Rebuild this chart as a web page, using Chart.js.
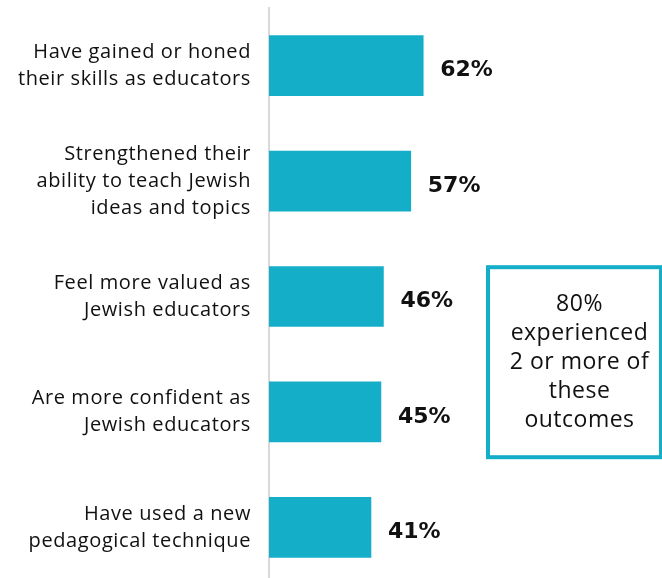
<!DOCTYPE html>
<html>
<head>
<meta charset="utf-8">
<script src="https://cdn.jsdelivr.net/npm/chart.js@4"></script>
<style>
  html, body { margin: 0; padding: 0; background: #ffffff; overflow: hidden; }
  canvas { display: block; }
</style>
</head>
<body>
<canvas id="chart" width="662" height="592"></canvas>
<script>
// Outcomes reported by participants (share of respondents, %)
const outcomeLabels = [
  ["Have gained or honed", "their skills as educators"],
  ["Strengthened their", "ability to teach Jewish", "ideas and topics"],
  ["Feel more valued as", "Jewish educators"],
  ["Are more confident as", "Jewish educators"],
  ["Have used a new", "pedagogical technique"]
];
const outcomeShares = [62, 57, 46, 45, 41];
const calloutLines = ["80%", "experienced", "2 or more of", "these", "outcomes"];

const TEAL = "#14aec8";
const INK = "#111111";

// Slightly open tracking for all canvas text
const tracking = {
  id: "tracking",
  beforeDraw(chart) { chart.ctx.letterSpacing = "0.6px"; }
};

// Bold percentage printed just past the end of each bar
const valueLabels = {
  id: "valueLabels",
  afterDatasetsDraw(chart) {
    const { ctx } = chart;
    const meta = chart.getDatasetMeta(0);
    ctx.save();
    ctx.letterSpacing = "0px";
    ctx.font = "bold 22px 'DejaVu Sans'";
    ctx.fillStyle = INK;
    ctx.textAlign = "left";
    ctx.textBaseline = "middle";
    meta.data.forEach((bar, i) => {
      ctx.fillText(outcomeShares[i] + "%", bar.x + 17, bar.y + 5);
    });
    ctx.restore();
  }
};

// Outlined call-out box summarising the combined outcome
const callout = {
  id: "callout",
  afterDraw(chart) {
    const { ctx, chartArea, scales } = chart;
    const yMid = (scales.y.getPixelForValue(2) + scales.y.getPixelForValue(3)) / 2 + 8;
    const left = chartArea.left + 219;
    const right = chartArea.right + 1;
    const top = yMid - 95;
    const bottom = yMid + 95;
    ctx.save();
    ctx.strokeStyle = TEAL;
    ctx.lineWidth = 4;
    ctx.strokeRect(left, top, right - left - 2, bottom - top);
    ctx.fillStyle = INK;
    ctx.letterSpacing = "0.5px";
    ctx.font = "23px 'Open Sans'";
    ctx.textAlign = "center";
    ctx.textBaseline = "middle";
    const cx = (left + right) / 2 + 4;
    const lh = 29;
    const y0 = yMid - 2 * lh;
    calloutLines.forEach((t, i) => ctx.fillText(t, cx, y0 + i * lh));
    ctx.restore();
  }
};

new Chart(document.getElementById("chart"), {
  type: "bar",
  data: {
    labels: outcomeLabels,
    datasets: [{
      data: outcomeShares,
      backgroundColor: TEAL,
      borderWidth: 0,
      barThickness: 60
    }]
  },
  options: {
    indexAxis: "y",
    responsive: false,
    animation: false,
    layout: { padding: { top: 8, bottom: 7, left: 0, right: 0 } },
    plugins: { legend: { display: false }, tooltip: { enabled: false } },
    scales: {
      x: { display: false, min: 0, max: 158 },
      y: {
        afterFit(scale) {
          scale.width = 269;
          scale.paddingTop = 0;
          scale.paddingBottom = 0;
        },
        grid: { display: false, drawTicks: false },
        border: { display: true, color: "#d9d9d9", width: 2 },
        ticks: {
          color: INK,
          padding: 18,
          font: { family: "'Open Sans'", size: 20, lineHeight: 1.35 }
        }
      }
    }
  },
  plugins: [tracking, valueLabels, callout]
});
</script>
</body>
</html>
